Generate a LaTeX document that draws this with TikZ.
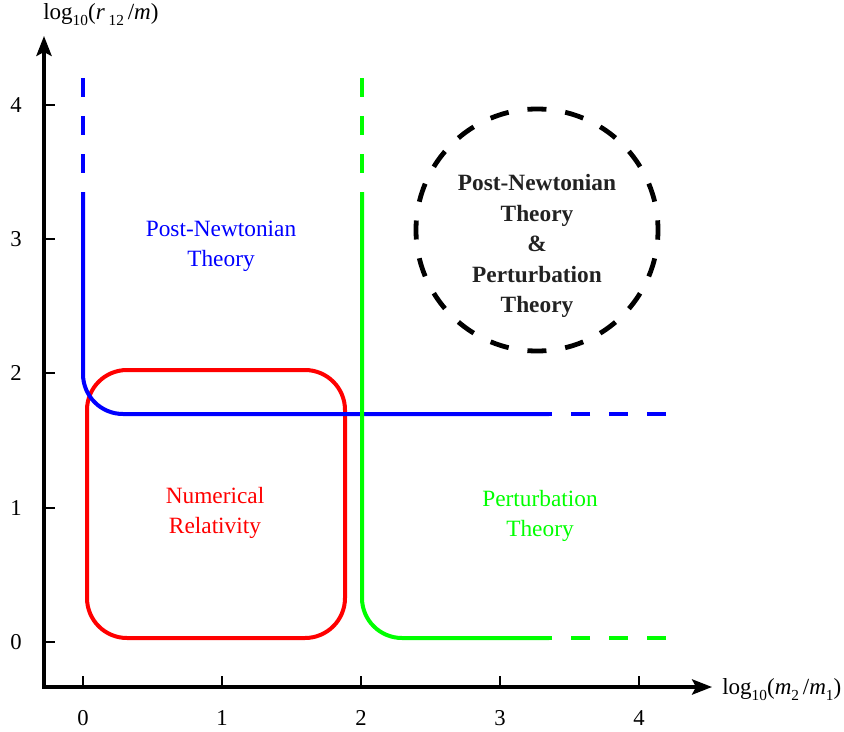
\documentclass[tikz,border=0pt]{standalone}
\usepackage{fontspec}
\setmainfont{Liberation Serif}
\usetikzlibrary{arrows.meta}
\definecolor{pnblue}{RGB}{0,0,255}
\definecolor{nrred}{RGB}{255,0,0}
\definecolor{ptgreen}{RGB}{0,255,0}
\definecolor{darktext}{RGB}{34,34,34}
\newcommand{\lowsub}[1]{\raisebox{-0.65ex}{\fontsize{11.5pt}{12pt}\selectfont #1}}
\begin{document}
\begin{tikzpicture}[x=0.75pt,y=-0.75pt,
  tickline/.style={line width=2pt},
  ticklabel/.style={font=\fontsize{17pt}{20pt}\selectfont},
  curve/.style={line width=3pt,rounded corners=30pt},
  dashpart/.style={line width=3pt,dash pattern=on 14.25pt off 14.25pt},
  region/.style={align=center,font=\fontsize{17.5pt}{22.5pt}\selectfont},
  axlabel/.style={font=\fontsize{17.3pt}{20pt}\selectfont,inner sep=0pt}
]
\useasboundingbox (0,0) rectangle (844,732);

% axes
\draw[line width=2.4pt,{Stealth[length=15pt,width=11.5pt,inset=3pt]}-{Stealth[length=15pt,width=11.5pt,inset=3pt]}]
  (44,36) -- (44,687) -- (712,687);

% ticks and labels
\foreach \xv/\lab in {83/0,222/1,361/2,500/3,639/4}{
  \draw[tickline] (\xv,687) -- (\xv,676);
  \node[ticklabel] (xl\lab) at (\xv,718) {\lab};
}
\foreach \yv/\lab in {642/0,508/1,373/2,239/3,105/4}{
  \draw[tickline] (44,\yv) -- (55,\yv);
  \node[ticklabel] (yl\lab) at (16,\yv) {\lab};
}

% axis labels
\node[axlabel,anchor=base west] (ylab) at (43,19)
  {log\lowsub{10}(\textit{r}\,\lowsub{12}\,/\textit{m})};
\node[axlabel,anchor=base west] (xlab) at (722,694)
  {log\lowsub{10}(\textit{m}\lowsub{2}\,/\textit{m}\lowsub{1})};

% numerical relativity
\draw[line width=3pt,nrred,rounded corners=30pt] (87,370) rectangle (345,638);

% post-newtonian boundary
\draw[curve,pnblue] (83,192) -- (83,414) -- (549,414);
\draw[dashpart,pnblue] (83,78) -- (83,192);
\draw[dashpart,pnblue] (666,414) -- (549,414);

% perturbation boundary
\draw[curve,ptgreen] (362,192) -- (362,638) -- (549,638);
\draw[dashpart,ptgreen] (362,78) -- (362,192);
\draw[dashpart,ptgreen] (666,638) -- (549,638);

% dashed circle
\draw[line width=3.6pt,dash pattern=on 14.25pt off 14.25pt,dash phase=7pt] (537,230) circle[radius=121];

% region labels
\node[region,text=pnblue] (pn) at (221,246) {Post-Newtonian\\Theory};
\node[region,text=nrred] (nr) at (215,513) {Numerical\\Relativity};
\node[region,text=ptgreen] (pt) at (540,516) {Perturbation\\Theory};
\node[region,text=darktext,font=\fontsize{17.5pt}{22.9pt}\selectfont\bfseries] (both) at (537,246)
  {Post-Newtonian\\Theory\\\&\\Perturbation\\Theory};
\end{tikzpicture}
\end{document}
